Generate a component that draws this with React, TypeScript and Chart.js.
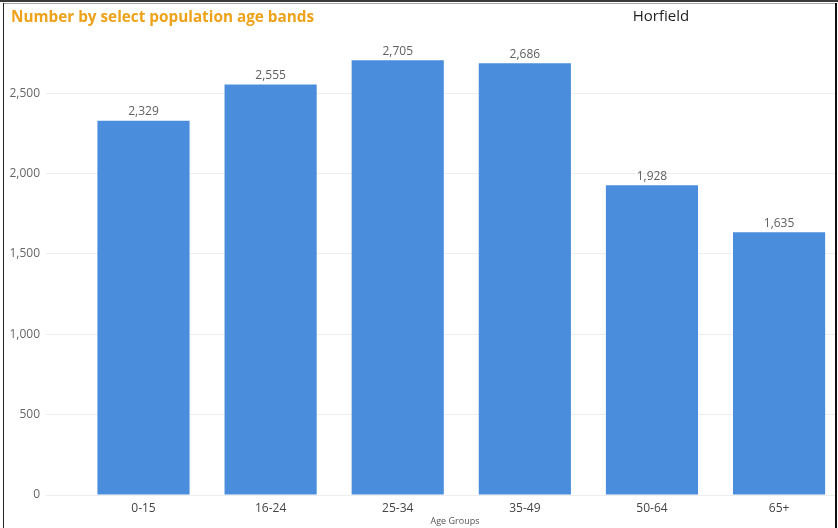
import React, { useEffect, useRef } from "react";
import { Chart, registerables } from "chart.js";

Chart.register(...registerables);

const categories = ["0-15", "16-24", "25-34", "35-49", "50-64", "65+"];
const populationValues = [2329, 2555, 2705, 2686, 1928, 1635];
const yTickValues = [0, 500, 1000, 1500, 2000, 2500];

const FONT = "'Open Sans', 'Noto Sans', sans-serif";

const fmt = (v: number) => v.toLocaleString("en-US");

const valueLabels = {
  id: "valueLabels",
  afterDatasetsDraw(chart: any) {
    const ctx = chart.ctx;
    const meta = chart.getDatasetMeta(0);
    ctx.save();
    ctx.font = `12px ${FONT}`;
    ctx.fillStyle = "#606060";
    ctx.textAlign = "center";
    ctx.textBaseline = "bottom";
    meta.data.forEach((el: any, i: number) => {
      const v = chart.data.datasets[0].data[i].y;
      ctx.fillText(fmt(v), el.x, el.y - 3);
    });
    ctx.restore();
  },
};

export default function App() {
  const ref = useRef<HTMLCanvasElement | null>(null);

  useEffect(() => {
    if (!ref.current) return;
    const chart = new Chart(ref.current, {
      type: "bar",
      data: {
        datasets: [
          {
            label: "Population",
            data: populationValues.map((v, i) => ({ x: i, y: v })),
            backgroundColor: "#4A8DDC",
            borderWidth: 0,
            barPercentage: 0.725,
            categoryPercentage: 1,
          },
        ],
      },
      plugins: [valueLabels],
      options: {
        animation: false,
        responsive: false,
        maintainAspectRatio: false,
        layout: { padding: { top: 45, right: 3, left: 0, bottom: 0 } },
        plugins: {
          legend: { display: false },
          tooltip: { enabled: false },
          title: { display: false },
        },
        scales: {
          x: {
            type: "linear",
            offset: false,
            min: -0.767,
            max: 5.44,
            grid: { display: false, drawTicks: false },
            border: { display: false },
            afterBuildTicks: (scale: any) => {
              scale.ticks = categories.map((_, i) => ({ value: i }));
            },
            afterFit: (scale: any) => {
              scale.height = 33;
            },
            ticks: {
              stepSize: 1,
              includeBounds: false,
              autoSkip: false,
              maxRotation: 0,
              padding: 6,
              color: "#444444",
              font: { family: FONT, size: 12 },
              callback: (v: any) => categories[Math.round(Number(v))] ?? "",
            },
          },
          y: {
            min: 0,
            max: 2800,
            afterBuildTicks: (scale: any) => {
              scale.ticks = yTickValues.map((v) => ({ value: v }));
            },
            afterFit: (scale: any) => {
              scale.width = 46;
            },
            grid: { color: "#eeeeee", drawTicks: false },
            border: { display: false },
            ticks: {
              padding: 6,
              color: "#666666",
              font: { family: FONT, size: 12 },
              callback: (v: any) => fmt(Number(v)),
            },
          },
        },
      },
    } as any);
    return () => chart.destroy();
  }, []);

  return (
    <div
      style={{
        position: "absolute",
        left: 0,
        top: 0,
        width: 838,
        height: 528,
        overflow: "hidden",
        background: "#ffffff",
      }}
    >
      <canvas
        ref={ref}
        width={838}
        height={528}
        style={{ position: "absolute", left: 0, top: 0, width: 838, height: 528 }}
      />
      <div style={{ position: "absolute", left: 0, top: 0, width: 838, height: 2, background: "#3a3a3a" }} />
      <div style={{ position: "absolute", left: 3, top: 3, width: 834, height: 1, background: "#a8a8a8" }} />
      <div style={{ position: "absolute", left: 3, top: 3, width: 1, height: 525, background: "#222222" }} />
      <div style={{ position: "absolute", left: 835, top: 3, width: 2, height: 525, background: "#111111" }} />
      <div
        style={{
          position: "absolute",
          left: 11,
          top: 6,
          fontFamily: FONT,
          fontWeight: 700,
          fontSize: 15.3,
          color: "#EDA21A",
          whiteSpace: "nowrap",
        }}
      >
        Number by select population age bands
      </div>
      <div
        style={{
          position: "absolute",
          left: 591,
          top: 5,
          width: 140,
          textAlign: "center",
          fontFamily: FONT,
          fontWeight: 500,
          fontSize: 15,
          color: "#1f1f1f",
          whiteSpace: "nowrap",
        }}
      >
        Horfield
      </div>
      <div
        style={{
          position: "absolute",
          left: 395,
          top: 514,
          width: 120,
          textAlign: "center",
          fontFamily: FONT,
          fontSize: 9,
          color: "#555555",
          whiteSpace: "nowrap",
        }}
      >
        Age Groups
      </div>
    </div>
  );
}
